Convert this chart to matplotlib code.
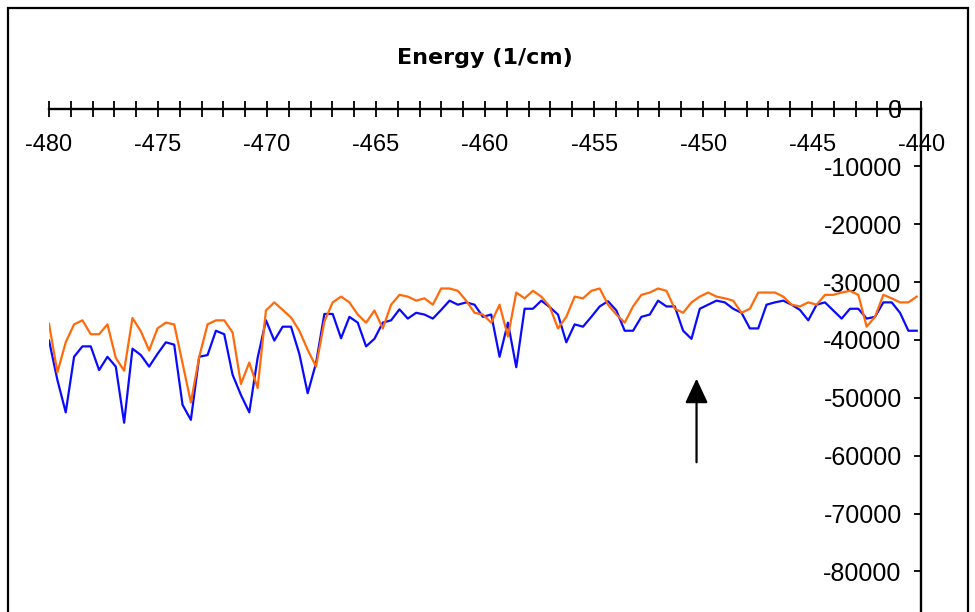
import numpy as np
import matplotlib
matplotlib.use('Agg')
import matplotlib.pyplot as plt
from matplotlib.patches import Rectangle

plt.rcParams['axes.unicode_minus'] = False

# energy grid (1/cm) and two intensity traces
energy = np.linspace(-480.0, -440.2, 105)

blue = [-40100, -46900, -52500, -42900, -41100, -41100, -45200, -42900, -44600, -54300,
        -41500, -42600, -44600, -42400, -40400, -40800, -51200, -53800,
        -42900, -42600, -38400, -39000, -46000, -49500, -52500, -43100, -36600, -40100,
        -37700, -37700, -42400, -49200, -44000, -35500, -35500,
        -39700, -36000, -37000, -41100, -39800, -37000, -36600, -34700, -36300, -35300,
        -35600, -36300, -34800, -33200, -33900, -33500, -33900, -36000,
        -35600, -42900, -37000, -44700, -34600, -34600, -33200, -34300, -35600, -40400,
        -37300, -37700, -36000, -34200, -33300, -34900, -38400,
        -38400, -36000, -35600, -33200, -34200, -34200, -38400, -39800, -34600, -33900,
        -33200, -33500, -34600, -35300, -38000, -38000, -33900, -33500,
        -33200, -33900, -34800, -36600, -33900, -33500, -34900, -36300, -34600, -34600,
        -36300, -36000, -33500, -33500, -35300, -38400, -38400]

orange = [-37200, -45600, -40400, -37300, -36600, -39000, -39000, -37300, -43100, -45300,
          -36200, -38500, -41800, -38000, -37000, -37300, -44000, -50800,
          -42900, -37300, -36600, -36600, -38700, -47600, -43900, -48300, -34900, -33500,
          -34800, -36100, -38400, -41700, -44600, -36800, -33500,
          -32500, -33500, -35600, -37000, -34900, -38000, -33900, -32200, -32500, -33200,
          -32800, -33900, -31100, -31100, -31500, -33200, -35300, -35600,
          -37000, -33900, -39400, -31800, -32800, -31500, -32500, -34200, -38000, -36000,
          -32500, -32800, -31500, -31100, -33900, -35600, -37000,
          -34200, -32200, -31800, -31100, -31500, -34600, -35300, -33500, -32500, -31800,
          -32500, -32800, -33200, -35300, -34600, -31800, -31800, -31800,
          -32500, -33900, -34200, -33500, -33900, -32200, -32200, -31800, -31500, -32200,
          -37700, -36000, -32200, -32800, -33500, -33500, -32500]

xticks = list(range(-480, -439, 5))
yticks = list(range(-80000, 1, 10000))

arrow_x = -450.3
arrow_tip = -46200
arrow_tail = -61600

fig = plt.figure(figsize=(9.75, 6.12), dpi=100)
ax = fig.add_axes([0.0503, 0.0, 0.8944, 0.8227])

ax.plot(energy, blue, color='#0a0aff', lw=1.6)
ax.plot(energy, orange, color='#ff6a0a', lw=1.6)

ax.annotate('', xy=(arrow_x, arrow_tip), xytext=(arrow_x, arrow_tail),
            arrowprops=dict(arrowstyle='-|>,head_length=1.5,head_width=0.7',
                            color='black', lw=1.6))

ax.set_xlim(-480, -440)
ax.set_ylim(-87000, 0)

ax.spines['top'].set_visible(False)
ax.spines['right'].set_visible(False)
ax.spines['bottom'].set_position(('data', 0))
ax.spines['left'].set_position(('data', -440))
ax.spines['bottom'].set_linewidth(1.7)
ax.spines['left'].set_linewidth(1.7)

ax.set_xticks(xticks)
ax.set_xticks(np.arange(-480, -439, 1), minor=True)
ax.set_yticks(yticks)
ax.set_yticklabels([str(v) for v in yticks])
ax.set_xticklabels([str(v) for v in xticks])

ax.tick_params(axis='x', which='both', direction='inout', length=11, width=1.3)
ax.tick_params(axis='x', which='major', pad=13, labelsize=17)
ax.tick_params(axis='y', direction='out', length=5, width=1.3, pad=9, labelsize=18)
for lab in ax.get_xticklabels() + ax.get_yticklabels():
    lab.set_family('Liberation Sans')

fig.text(0.497, 0.905, 'Energy (1/cm)', ha='center', va='center',
         fontsize=16, fontweight='bold', family='DejaVu Sans')

fig.patches.append(Rectangle((8 / 975, -0.02), 960 / 975, 1 - 8 / 612 + 0.02,
                             transform=fig.transFigure, fill=False,
                             edgecolor='black', lw=1.6))

fig.savefig('out.png', dpi=100)
